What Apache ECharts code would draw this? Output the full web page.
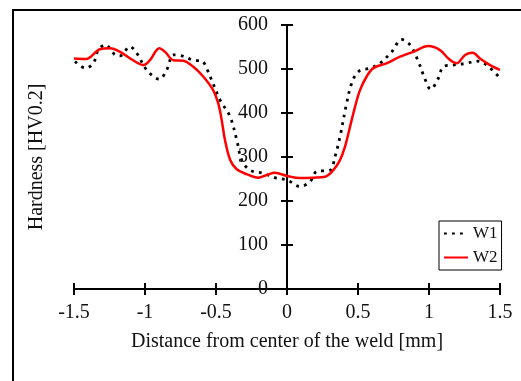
<!DOCTYPE html>
<html>
<head>
<meta charset="utf-8">
<script src="https://cdn.jsdelivr.net/npm/echarts@6/dist/echarts.min.js"></script>
<style>html,body{margin:0;padding:0;background:#fff}#c{width:521px;height:381px}</style>
</head>
<body>
<div id="c"></div>
<script>
const xTicks = [-1.5, -1, -0.5, 0, 0.5, 1, 1.5];
const yTicks = [0, 100, 200, 300, 400, 500, 600];

const w1X = [-1.493,-1.42,-1.364,-1.329,-1.28,-1.21,-1.176,-1.106,-1.058,-0.988,-0.899,-0.847,-0.80,-0.742,-0.66,-0.60,-0.542,-0.472,-0.401,-0.354,-0.319,-0.26,-0.167,-0.073,0,0.092,0.162,0.209,0.303,0.338,0.373,0.42,0.455,0.502,0.585,0.655,0.737,0.808,0.866,0.925,0.965,1.012,1.066,1.10,1.171,1.265,1.336,1.406,1.5];
const w1Y = [517,502,513,543,555,532,530,551,536,498,477,498,532,530,520,518,483,430,392,339,293,270,263,252,248,233,244,267,270,301,346,422,467,494,502,513,539,567,555,517,483,454,479,505,509,513,518,509,479];

const w2X = [-1.5,-1.415,-1.317,-1.246,-1.176,-1.085,-1.012,-0.965,-0.899,-0.859,-0.8,-0.73,-0.66,-0.59,-0.52,-0.484,-0.46,-0.437,-0.40,-0.354,-0.284,-0.202,-0.143,-0.085,0,0.09,0.185,0.268,0.326,0.373,0.408,0.444,0.479,0.514,0.561,0.608,0.70,0.796,0.89,0.995,1.077,1.136,1.195,1.254,1.308,1.359,1.43,1.5];
const w2Y = [524,523,545,547,539,520,509,520,547,539,520,519,505,483,452,422,384,339,293,272,261,253,259,264,257,252,253,255,270,293,323,369,414,452,483,502,513,528,539,552,543,524,513,532,537,524,509,498];

const pairs = (xs, ys) => xs.map((x, i) => [x, ys[i]]);
const FONT = 'Liberation Serif';
const axisCommonX = {
  type: 'value', min: -1.5, max: 1.5, interval: 0.5,
  splitLine: { show: false }
};
const axisCommonY = {
  type: 'value', min: 0, max: 600, interval: 100,
  splitLine: { show: false }
};
const lineBlack = { color: '#000', width: 2 };

// grid geometry (container 521x381)
const G = { left: 74, right: 21, top: 25, bottom: 92 };
const plotW = 521 - G.left - G.right;   // 426
const plotH = 381 - G.top - G.bottom;   // 264
const yAxisShift = -plotW / 2;          // y axis sits at x = 0 (middle of -1.5..1.5)

const chart = echarts.init(document.getElementById('c'), null, { renderer: 'canvas' });
chart.setOption({
  animation: false,
  backgroundColor: '#fff',
  graphic: [{
    type: 'rect', shape: { x: 13, y: 10, width: 700, height: 500 },
    style: { fill: 'none', stroke: '#000', lineWidth: 2 }, silent: true, z: 100
  }],
  grid: Object.assign({ containLabel: false, outerBoundsMode: 'none' }, G),
  legend: {
    left: 439, top: 221, orient: 'vertical',
    borderColor: '#000', borderWidth: 1, padding: [4, 4, 4, 4],
    itemWidth: 24, itemHeight: 14, itemGap: 7,
    itemStyle: { opacity: 0 },
    textStyle: { fontFamily: FONT, fontSize: 17, color: '#111', lineHeight: 17 },
    data: ['W1', 'W2']
  },
  xAxis: [
    Object.assign({}, axisCommonX, {
      position: 'bottom',
      axisLine: { onZero: false, lineStyle: lineBlack },
      axisTick: { show: true, length: 6, lineStyle: lineBlack },
      axisLabel: {
        margin: 14, fontFamily: FONT, fontSize: 20, color: '#111',
        formatter: v => String(xTicks.find(t => Math.abs(t - v) < 1e-9) ?? v)
      },
      name: 'Distance from center of the weld [mm]',
      nameLocation: 'middle', nameGap: 43,
      nameTextStyle: { fontFamily: FONT, fontSize: 20, color: '#111' }
    }),
    Object.assign({}, axisCommonX, {
      position: 'top', offset: -plotH,
      axisLine: { show: false, onZero: false },
      axisTick: { show: true, length: 6, lineStyle: lineBlack },
      axisLabel: { show: false }
    })
  ],
  yAxis: [
    Object.assign({}, axisCommonY, {
      position: 'left', offset: yAxisShift,
      axisLine: { show: true, onZero: false, lineStyle: lineBlack },
      axisTick: { show: true, length: 6, lineStyle: lineBlack },
      axisLabel: { margin: 19, fontFamily: FONT, fontSize: 20, color: '#111' },
      name: 'Hardness [HV0.2]',
      nameLocation: 'middle', nameGap: 240,
      nameTextStyle: { fontFamily: FONT, fontSize: 20, color: '#111' }
    }),
    Object.assign({}, axisCommonY, {
      position: 'right', offset: yAxisShift,
      axisLine: { show: false, onZero: false },
      axisTick: { show: true, length: 6, lineStyle: lineBlack },
      axisLabel: { show: false }
    })
  ],
  series: [
    {
      name: 'W1', type: 'line', xAxisIndex: 0, yAxisIndex: 0,
      data: pairs(w1X, w1Y), symbol: 'none', smooth: 0.35,
      lineStyle: { color: '#000', width: 2.8, type: [2.8, 5.2], cap: 'butt' },
      itemStyle: { color: '#000' }, z: 3
    },
    {
      name: 'W2', type: 'line', xAxisIndex: 0, yAxisIndex: 0,
      data: pairs(w2X, w2Y), symbol: 'none', smooth: 0.35,
      lineStyle: { color: '#ff0000', width: 2.5 },
      itemStyle: { color: '#ff0000' }, z: 4
    }
  ]
});
</script>
</body>
</html>
